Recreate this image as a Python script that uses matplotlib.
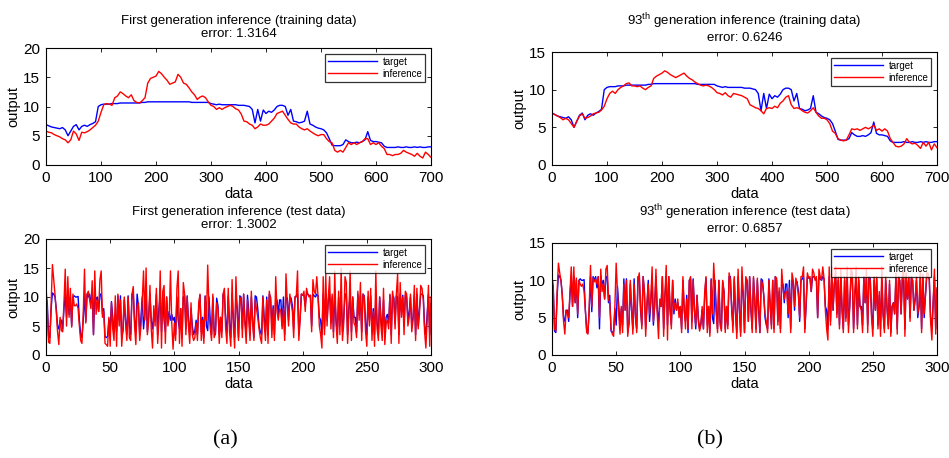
import numpy as np
import matplotlib
matplotlib.use("Agg")
import matplotlib.pyplot as plt

plt.rcParams['font.family'] = ['Liberation Sans', 'DejaVu Sans']
plt.rcParams['mathtext.fontset'] = 'custom'
plt.rcParams['mathtext.rm'] = 'Liberation Sans'

# ---- training data (sampled every 5 points) ----
train_step = 5
target_train = [
    6.9, 6.7, 6.5, 6.4, 6.3, 6.2, 6.4, 6.0, 5.0, 5.8,
    6.6, 6.9, 6.0, 6.6, 6.8, 6.6, 6.9, 7.1, 7.4, 10.0,
    10.3, 10.4, 10.4, 10.4, 10.5, 10.5, 10.5, 10.6, 10.6, 10.6,
    10.6, 10.6, 10.6, 10.6, 10.6, 10.7, 10.7, 10.8, 10.8, 10.8,
    10.8, 10.8, 10.8, 10.8, 10.8, 10.8, 10.8, 10.8, 10.8, 10.8,
    10.8, 10.8, 10.8, 10.7, 10.7, 10.7, 10.7, 10.7, 10.7, 10.7,
    10.5, 10.4, 10.3, 10.4, 10.3, 10.3, 10.3, 10.3, 10.3, 10.3,
    10.2, 10.2, 10.2, 10.1, 10.0, 9.5, 7.2, 9.5, 7.5, 9.4,
    8.8, 9.2, 9.0, 9.4, 10.0, 10.2, 10.2, 10.0, 8.5, 9.5,
    7.5, 7.4, 7.2, 7.3, 7.5, 9.2, 7.0, 6.8, 6.5, 6.3,
    6.2, 6.0, 5.5, 4.5, 3.4, 3.3, 3.3, 3.3, 3.5, 4.3,
    4.0, 3.8, 3.8, 3.9, 3.8, 4.0, 4.3, 5.7, 4.2, 4.0,
    4.0, 3.9, 3.8, 3.2, 3.0, 3.0, 3.0, 3.0, 3.1, 3.0,
    3.0, 3.1, 3.0, 3.0, 3.1, 3.0, 3.1, 3.0, 3.0, 3.1,
    3.1,
]
infer_train_first = [
    5.8, 5.6, 5.5, 5.2, 5.0, 4.8, 4.5, 4.3, 3.8, 4.3,
    5.8, 5.3, 4.2, 5.6, 5.5, 5.7, 6.0, 6.4, 6.8, 7.5,
    9.0, 10.3, 10.5, 10.4, 10.2, 11.5, 11.8, 12.5, 12.2, 11.8,
    11.5, 12.0, 11.0, 10.7, 10.6, 11.0, 11.5, 14.0, 14.8, 15.0,
    15.2, 16.0, 15.6, 15.0, 14.5, 13.8, 14.0, 14.2, 15.5, 15.0,
    14.0, 13.8, 13.2, 12.5, 12.0, 11.2, 11.6, 11.8, 11.5, 10.8,
    10.2, 10.0, 9.5, 9.8, 9.5, 9.8, 10.0, 10.2, 10.0, 9.6,
    9.4, 8.7, 7.5, 7.4, 7.0, 6.8, 6.2, 6.5, 7.0, 6.8,
    6.8, 7.0, 7.5, 8.0, 8.8, 9.0, 9.2, 8.5, 7.8, 7.2,
    7.0, 7.0, 6.5, 6.2, 6.0, 6.2, 5.8, 5.5, 5.2, 5.0,
    5.2, 5.2, 4.5, 4.0, 3.8, 2.5, 2.2, 2.5, 2.2, 3.0,
    3.8, 3.5, 3.8, 3.5, 3.8, 4.0, 4.5, 4.5, 3.5, 3.8,
    3.5, 3.8, 3.2, 2.8, 1.8, 1.8, 1.6, 1.8, 1.8, 2.0,
    2.5, 2.2, 2.0, 1.8, 1.5, 2.0, 1.5, 1.2, 2.2, 1.8,
    1.3,
]
infer_train_93 = [
    6.9, 6.7, 6.5, 6.3, 6.0, 6.2, 6.0, 5.5, 5.0, 5.8,
    6.5, 6.8, 6.2, 6.3, 6.5, 6.8, 6.9, 7.0, 7.3, 7.8,
    8.8, 9.5, 9.8, 9.5, 10.0, 10.3, 10.5, 10.8, 10.9, 10.5,
    10.5, 10.4, 10.5, 10.2, 10.0, 10.3, 10.5, 11.5, 11.8, 12.0,
    12.2, 12.5, 12.3, 12.0, 11.8, 11.6, 11.8, 12.0, 12.2, 11.8,
    11.5, 11.3, 11.0, 10.8, 10.6, 10.5, 10.6, 10.5, 10.3, 10.0,
    9.6, 9.5, 9.3, 9.6, 9.2, 9.0, 9.5, 9.4, 9.3, 9.2,
    9.0, 8.8, 8.0, 7.8, 7.6, 7.5, 7.2, 6.8, 7.5, 7.6,
    7.5, 7.8, 7.6, 8.2, 8.5, 9.0, 9.2, 8.0, 7.5, 7.6,
    7.5, 7.2, 7.0, 6.9, 7.2, 7.6, 7.0, 6.5, 6.2, 6.2,
    6.0, 5.5, 4.5, 4.2, 3.5, 3.3, 3.2, 3.3, 4.0, 4.8,
    4.7, 4.8, 4.6, 4.8, 5.0, 4.8, 5.0, 5.3, 4.6, 4.8,
    4.5, 4.8, 4.5, 3.5, 3.0, 2.5, 2.4, 2.5, 2.8, 3.5,
    3.0, 2.8, 2.9, 2.6, 2.2, 3.0, 2.5, 3.0, 2.0, 2.8,
    2.3,
]

# ---- test data (every point) ----
target_test = [
    10.5, 9.0, 3.2, 3.0, 8.0, 10.7, 10.5, 10.0, 8.0, 5.0, 4.5, 6.0, 6.0, 4.5, 8.0, 10.5, 6.5, 10.5, 7.0, 10.0,
    5.0, 10.0, 10.2, 10.0, 10.0, 10.1, 6.0, 3.5, 3.0, 6.0, 10.5, 5.8, 10.5, 10.0, 10.5, 9.0, 10.5, 3.5, 10.5, 9.5,
    10.0, 7.5, 10.5, 10.5, 7.0, 8.0, 3.2, 3.0, 3.2, 6.2, 4.0, 9.2, 6.5, 4.0, 6.2, 4.0, 10.2, 6.0, 10.2, 3.0,
    4.2, 9.5, 6.0, 3.5, 10.2, 5.0, 3.5, 10.5, 10.5, 6.0, 4.0, 10.5, 8.5, 3.5, 6.5, 10.0, 4.5, 7.0, 10.5, 4.0,
    6.8, 10.5, 6.0, 4.5, 7.0, 6.5, 10.5, 3.5, 8.0, 10.5, 4.0, 10.5, 6.0, 4.0, 10.0, 5.5, 7.5, 6.0, 7.0, 6.0,
    6.5, 3.5, 10.0, 6.0, 4.5, 8.0, 3.0, 10.0, 10.2, 4.5, 10.2, 6.0, 3.5, 8.0, 5.0, 3.5, 4.2, 6.0, 3.5, 8.0,
    10.3, 4.0, 6.5, 3.0, 10.2, 5.0, 4.2, 10.0, 6.0, 3.5, 10.0, 4.5, 3.5, 9.8, 8.5, 3.5, 6.5, 4.0, 10.5, 10.5,
    6.0, 4.0, 10.2, 5.5, 3.0, 10.5, 6.0, 3.0, 10.5, 8.0, 3.0, 10.2, 10.0, 4.5, 10.5, 6.0, 3.5, 10.3, 7.5, 3.5,
    10.0, 6.0, 3.0, 10.2, 10.0, 8.0, 5.0, 4.0, 3.5, 10.2, 6.5, 4.0, 10.0, 3.5, 10.5, 10.0, 4.5, 8.5, 3.5, 9.5,
    9.5, 7.0, 9.5, 9.5, 5.0, 10.0, 3.5, 10.0, 9.8, 6.0, 10.0, 9.8, 8.5, 4.5, 10.0, 10.2, 10.5, 3.5, 6.5, 10.5,
    10.3, 10.3, 8.5, 10.5, 10.5, 10.2, 10.3, 5.0, 10.5, 10.2, 10.0, 10.5, 10.2, 6.5, 6.0, 3.5, 10.5, 4.5, 10.2, 6.0,
    9.5, 10.5, 5.5, 10.0, 4.0, 10.5, 6.0, 3.5, 10.0, 5.0, 10.5, 4.0, 6.5, 10.5, 10.5, 3.5, 8.0, 10.5, 4.0, 10.0,
    6.5, 6.5, 4.0, 10.5, 7.0, 10.2, 4.0, 10.5, 10.2, 5.5, 3.5, 10.0, 6.0, 10.2, 4.0, 8.0, 3.5, 10.0, 5.5, 3.5,
    10.0, 6.5, 4.0, 9.5, 3.0, 6.5, 7.0, 5.5, 10.3, 3.5, 10.0, 10.0, 5.5, 10.2, 10.0, 3.5, 10.5, 7.5, 10.3, 5.0,
    10.3, 10.0, 6.0, 7.5, 10.0, 5.0, 6.5, 10.2, 3.5, 10.5, 5.0, 8.0, 10.5, 10.5, 10.2, 5.0, 3.5, 7.0, 10.5, 3.5,
    8.8,
]
infer_test_first = [
    11.7, 8.0, 2.2, 2.0, 9.0, 15.6, 13.0, 10.5, 7.5, 4.0, 1.8, 6.5, 4.2, 4.0, 9.0, 14.8, 5.0, 13.5, 6.5, 11.5,
    4.8, 10.5, 8.5, 8.5, 8.8, 8.0, 5.0, 2.5, 2.0, 7.0, 14.8, 5.5, 10.5, 11.0, 9.5, 8.0, 12.8, 3.5, 14.5, 7.0,
    9.5, 7.5, 13.0, 14.5, 6.5, 7.5, 2.0, 1.8, 1.5, 6.5, 1.5, 9.0, 4.5, 2.5, 10.2, 1.5, 10.5, 5.0, 9.5, 1.5,
    5.0, 10.0, 5.5, 2.5, 10.0, 3.0, 2.5, 10.5, 11.8, 5.0, 1.8, 8.5, 9.0, 2.5, 5.0, 9.5, 14.5, 6.0, 15.0, 3.5,
    6.0, 12.0, 4.5, 1.2, 8.5, 5.0, 11.5, 2.0, 6.0, 14.5, 1.2, 11.0, 12.0, 2.0, 10.0, 5.0, 6.5, 14.5, 5.5, 1.0,
    5.5, 2.5, 11.5, 14.5, 2.0, 8.0, 1.5, 12.5, 10.5, 3.5, 10.0, 5.0, 2.0, 9.0, 3.5, 2.5, 3.0, 5.5, 2.5, 9.0,
    10.5, 2.5, 6.0, 2.0, 10.0, 6.0, 15.5, 8.0, 4.5, 2.5, 10.5, 3.0, 3.8, 9.0, 8.0, 2.0, 6.5, 3.0, 10.5, 11.5,
    4.5, 2.0, 11.5, 4.0, 1.5, 13.0, 5.0, 1.2, 13.5, 7.0, 2.5, 10.0, 9.5, 3.0, 10.5, 5.5, 2.0, 9.5, 6.0, 2.5,
    11.0, 5.5, 2.5, 9.5, 8.0, 6.5, 4.5, 3.0, 2.0, 10.0, 5.5, 2.5, 9.5, 2.0, 11.0, 9.5, 3.0, 8.0, 2.5, 13.5,
    7.5, 6.0, 8.0, 7.5, 4.5, 8.0, 2.5, 14.0, 9.0, 5.0, 10.5, 9.0, 7.5, 3.0, 10.0, 10.0, 14.5, 2.5, 6.0, 10.5,
    10.3, 11.0, 7.5, 11.5, 10.5, 10.0, 10.3, 4.0, 13.0, 11.0, 10.5, 13.5, 10.0, 5.0, 3.5, 1.2, 13.5, 3.5, 14.0, 5.0,
    10.0, 13.5, 4.5, 10.5, 3.0, 14.5, 5.5, 2.0, 11.0, 3.5, 15.0, 2.5, 5.5, 13.5, 12.5, 2.0, 7.0, 14.5, 2.5, 10.0,
    5.5, 5.0, 3.0, 11.0, 6.0, 12.5, 2.5, 10.5, 10.0, 4.0, 1.5, 11.0, 5.0, 11.5, 2.5, 7.5, 1.5, 14.5, 4.5, 2.5,
    10.0, 5.0, 2.5, 11.5, 1.8, 5.5, 6.0, 4.5, 10.5, 2.0, 11.0, 9.5, 4.5, 10.5, 14.0, 2.0, 12.5, 6.5, 10.0, 3.5,
    11.0, 10.5, 5.0, 6.5, 10.5, 4.0, 6.0, 12.0, 2.5, 11.5, 4.5, 7.0, 12.0, 11.5, 9.5, 4.0, 1.2, 6.0, 12.0, 1.5,
    10.0,
]
infer_test_93 = [
    10.5, 8.5, 3.5, 3.2, 8.5, 12.3, 11.0, 10.0, 8.0, 4.5, 2.8, 6.0, 5.5, 5.0, 8.5, 11.8, 6.5, 11.8, 7.0, 10.3,
    5.5, 10.0, 9.5, 9.2, 9.5, 8.5, 6.0, 3.0, 2.8, 6.5, 12.0, 6.5, 10.3, 9.8, 10.2, 9.5, 10.5, 5.0, 11.5, 8.5,
    9.5, 7.5, 11.5, 12.0, 7.5, 7.0, 3.5, 2.8, 2.5, 6.5, 12.3, 8.5, 5.5, 2.8, 6.5, 3.0, 9.5, 6.0, 10.0, 2.5,
    4.5, 10.0, 6.5, 2.8, 9.5, 5.5, 3.0, 10.0, 11.0, 6.5, 3.5, 10.5, 8.5, 2.5, 7.0, 9.5, 5.5, 7.5, 11.8, 4.5,
    6.5, 11.5, 5.5, 2.2, 7.5, 6.5, 10.5, 2.5, 8.0, 12.0, 2.0, 10.5, 6.5, 3.5, 10.0, 6.0, 7.0, 6.0, 7.5, 5.0,
    6.5, 3.0, 10.5, 6.5, 3.5, 7.5, 3.5, 10.0, 10.5, 3.5, 10.0, 6.0, 4.0, 8.0, 4.5, 3.2, 4.0, 6.5, 3.5, 8.5,
    10.5, 3.0, 6.5, 2.5, 10.0, 5.5, 12.3, 9.0, 5.5, 3.0, 10.0, 4.0, 3.2, 10.0, 8.5, 3.0, 6.5, 3.5, 11.0, 10.0,
    6.5, 3.0, 10.5, 6.0, 2.2, 11.5, 6.5, 2.5, 11.8, 8.0, 3.0, 10.5, 10.0, 4.5, 10.5, 6.5, 3.0, 10.5, 7.0, 3.0,
    10.3, 6.5, 3.0, 10.0, 9.5, 8.0, 5.5, 4.5, 3.0, 10.0, 7.0, 3.5, 10.0, 3.0, 10.5, 10.3, 4.0, 9.0, 3.0, 11.5,
    9.0, 7.5, 8.5, 8.5, 5.5, 9.0, 3.0, 11.0, 10.0, 6.5, 10.3, 9.5, 8.0, 5.0, 10.5, 10.5, 11.8, 3.0, 7.0, 11.0,
    10.3, 10.5, 8.5, 11.5, 11.0, 10.0, 10.5, 5.0, 11.5, 10.5, 10.0, 11.8, 10.2, 6.0, 3.5, 2.0, 11.8, 4.0, 11.8, 6.0,
    9.5, 11.8, 5.0, 10.5, 3.5, 11.5, 6.5, 3.0, 10.5, 4.5, 11.8, 3.0, 6.5, 11.5, 11.0, 3.0, 8.5, 11.8, 3.5, 10.5,
    6.5, 6.0, 3.0, 10.5, 7.0, 11.5, 3.0, 10.5, 10.0, 5.0, 2.5, 10.5, 6.0, 10.5, 3.5, 8.5, 2.5, 11.8, 5.5, 3.0,
    10.5, 6.5, 3.5, 10.0, 2.5, 6.5, 7.0, 5.5, 11.0, 2.8, 10.5, 10.0, 5.5, 10.5, 11.8, 2.5, 11.0, 7.5, 10.5, 4.5,
    10.5, 10.0, 6.0, 7.5, 10.5, 5.5, 6.5, 11.5, 3.0, 10.8, 5.5, 8.0, 11.0, 11.0, 10.0, 4.5, 2.0, 7.0, 11.5, 2.8,
    9.0,
]

titles = [
    "First generation inference (training data)\nerror: 1.3164",
    "93$^{\\rm th}$ generation inference (training data)\nerror: 0.6246",
    "First generation inference (test data)\nerror: 1.3002",
    "93$^{\\rm th}$ generation inference (test data)\nerror: 0.6857",
]

fig = plt.figure(figsize=(9.49, 4.58), dpi=100)

W, H = 949, 458
def add_ax(l, t, r, b):
    return fig.add_axes([l / W, 1 - b / H, (r - l) / W, (b - t) / H])

ax_tl = add_ax(46, 48, 431, 165)
ax_tr = add_ax(552, 52, 937, 165)
ax_bl = add_ax(46, 239, 431, 355)
ax_br = add_ax(552, 243, 937, 355)

x_train = np.arange(len(target_train)) * train_step
x_test = np.arange(len(target_test))

panels = [
    (ax_tl, x_train, target_train, infer_train_first, 700, 100, 20, titles[0]),
    (ax_tr, x_train, target_train, infer_train_93, 700, 100, 15, titles[1]),
    (ax_bl, x_test, target_test, infer_test_first, 300, 50, 20, titles[2]),
    (ax_br, x_test, target_test, infer_test_93, 300, 50, 15, titles[3]),
]

for ax, x, tgt, inf, xmax, xstep, ymax, title in panels:
    ax.plot(x, tgt, color='blue', lw=1.0, label='target')
    ax.plot(x, inf, color='red', lw=1.0, label='inference')
    ax.set_xlim(0, xmax)
    ax.set_ylim(0, ymax)
    ax.set_xticks(np.arange(0, xmax + 1, xstep))
    ax.set_yticks(np.arange(0, ymax + 1, 5))
    ax.tick_params(direction='in', top=True, right=True, length=3, width=0.6,
                   labelsize=11, pad=4.5)
    for s in ax.spines.values():
        s.set_linewidth(0.8)
    ax.set_xlabel('data', fontsize=10.5, labelpad=1)
    ax.set_ylabel('output', fontsize=10.5, labelpad=2)
    ax.set_title(title, fontsize=9.5, pad=8, linespacing=1.1)
    leg = ax.legend(loc='upper right', fontsize=7, frameon=True, fancybox=False,
                    handlelength=5, borderpad=0.3, labelspacing=0.2,
                    borderaxespad=0.6, handletextpad=0.6)
    leg.get_frame().set_edgecolor('black')
    leg.get_frame().set_linewidth(0.9)

fig.text(225 / W, 1 - 440 / H, '(a)', family='Liberation Serif', fontsize=16,
         ha='center', va='center')
fig.text(710 / W, 1 - 440 / H, '(b)', family='Liberation Serif', fontsize=16,
         ha='center', va='center')

fig.savefig('out.png', dpi=100)
